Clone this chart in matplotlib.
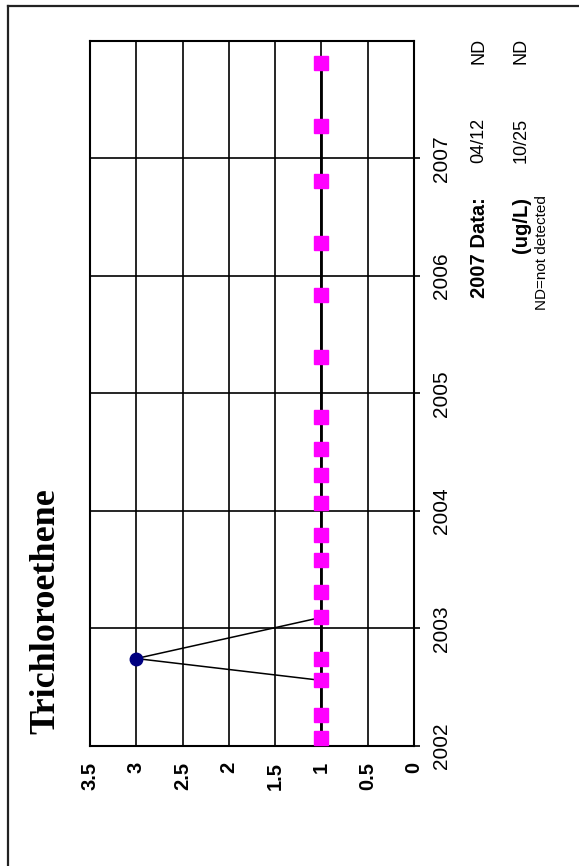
import matplotlib
matplotlib.use("Agg")
import matplotlib.pyplot as plt
import matplotlib.dates as mdates
from matplotlib.lines import Line2D
import pandas as pd

# ---- data ----
title = "Trichloroethene"
nd_dates = ["2002-01-24", "2002-04-06", "2002-07-23", "2002-09-29", "2003-02-04",
            "2003-04-24", "2003-07-31", "2003-10-19", "2004-01-27", "2004-04-23",
            "2004-07-13", "2004-10-20", "2005-04-24", "2005-11-02", "2006-04-14",
            "2006-10-22", "2007-04-12", "2007-10-25"]
nd_values = [1] * len(nd_dates)
det_dates = ["2002-07-23", "2002-09-29", "2003-02-04"]
det_values = [1, 3, 1]
year_ticks = [2002, 2003, 2004, 2005, 2006, 2007]
value_ticks = [0, 0.5, 1, 1.5, 2, 2.5, 3, 3.5]
value_labels = ["0", "0.5", "1", "1.5", "2", "2.5", "3", "3.5"]
data_header = ["2007 Data:", "(ug/L)"]
data_dates = ["04/12", "10/25"]
data_results = ["ND", "ND"]
footnote = "ND=not detected"

W, H = 579, 866
fig = plt.figure(figsize=(W / 100, H / 100), dpi=100)
plt.rcParams['font.family'] = ['Liberation Sans', 'DejaVu Sans']

def fx(px):
    return px / W

def fy(py):
    return 1 - py / H

# outer border (only top and left visible)
fig.add_artist(Line2D([fx(8), fx(579)], [fy(6), fy(6)], color='#222222', lw=1.6,
                      transform=fig.transFigure))
fig.add_artist(Line2D([fx(8), fx(8)], [fy(6), fy(866)], color='#222222', lw=1.6,
                      transform=fig.transFigure))

ax = fig.add_axes([fx(90), fy(745.7), 324 / W, 704.7 / H])

nd_d = mdates.date2num(pd.to_datetime(nd_dates))
det_d = mdates.date2num(pd.to_datetime(det_dates))

ax.plot(det_values, det_d, color='black', lw=1.1, marker='o', markevery=[1],
        markersize=9, markerfacecolor='#000080', markeredgecolor='#000080', zorder=4)
ax.plot(nd_values, nd_d, color='black', lw=2.0, marker='s', markersize=10,
        markerfacecolor='#FF00FF', markeredgecolor='#FF00FF', zorder=5)

ax.set_xlim(3.5, 0)
ymin = mdates.date2num(pd.Timestamp("2002-01-01"))
ymax = mdates.date2num(pd.Timestamp("2008-01-01"))
ax.set_ylim(ymin, ymax)

# value axis (horizontal, bottom)
ax.set_xticks(value_ticks)
ax.set_xticklabels(value_labels, rotation=90, fontsize=14.5, fontweight='bold')
ax.tick_params(axis='x', length=0, pad=11.7)

# year axis (vertical, right)
ax.yaxis.tick_right()
yt = [mdates.date2num(pd.Timestamp(f"{y}-01-01")) for y in year_ticks]
ax.set_yticks(yt)
ax.set_yticklabels([str(y) for y in year_ticks], rotation=90, va='center', fontsize=15)
ax.tick_params(axis='y', direction='out', length=4.3, width=1.2, pad=9)

# grid
for v in value_ticks[1:-1]:
    ax.axvline(v, color='black', lw=1.2, zorder=1)
for t in yt[1:]:
    ax.axhline(t, color='black', lw=1.2, zorder=1)
for s in ax.spines.values():
    s.set_linewidth(1.5)
    s.set_color('black')

# title
fig.text(fx(46), fy(611), title, rotation=90, ha='center', va='center',
         fontsize=26, fontweight='bold', family='Liberation Serif')

# 2007 data block
fig.text(fx(480), fy(197), data_header[0], rotation=90, ha='center', va='top',
         fontsize=14.5, fontweight='bold')
fig.text(fx(522), fy(197), data_header[1], rotation=90, ha='center', va='top',
         fontsize=14.5, fontweight='bold')
fig.text(fx(479), fy(140.5), data_dates[0], rotation=90, ha='center', va='center', fontsize=13)
fig.text(fx(521), fy(140.5), data_dates[1], rotation=90, ha='center', va='center', fontsize=13)
fig.text(fx(479), fy(50.5), data_results[0], rotation=90, ha='center', va='center', fontsize=13)
fig.text(fx(521), fy(50.5), data_results[1], rotation=90, ha='center', va='center', fontsize=13)
fig.text(fx(542), fy(252.5), footnote, rotation=90, ha='center', va='center', fontsize=11)

fig.savefig("out.png", dpi=100)
